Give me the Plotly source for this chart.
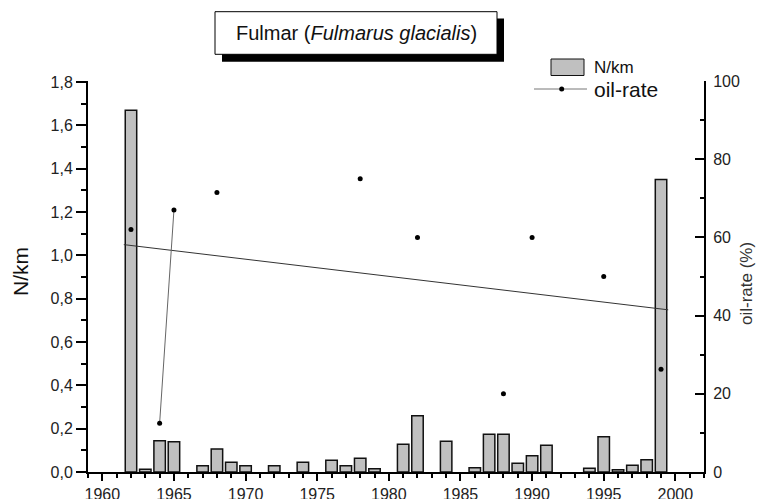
import plotly.graph_objects as go
import numpy as np

# ---- data ----
bar_years = [1962, 1963, 1964, 1965, 1967, 1968, 1969, 1970, 1972, 1974, 1976, 1977,
             1978, 1979, 1981, 1982, 1984, 1986, 1987, 1988, 1989, 1990, 1991, 1994,
             1995, 1996, 1997, 1998, 1999]
bar_values = [1.67, 0.013, 0.144, 0.14, 0.029, 0.106, 0.045, 0.029, 0.029, 0.045, 0.054, 0.029,
              0.063, 0.015, 0.128, 0.26, 0.142, 0.02, 0.174, 0.174, 0.04, 0.075, 0.123, 0.017,
              0.163, 0.01, 0.031, 0.057, 1.35]

oil_years = [1962, 1964, 1965, 1968, 1978, 1982, 1988, 1990, 1995, 1999]
oil_values = [62, 12.5, 67, 71.5, 75, 60, 20, 60, 50, 26.3]

all_years = list(range(1962, 2000))
oil_lookup = dict(zip(oil_years, oil_values))
oil_series = [oil_lookup.get(y) for y in all_years]

# linear trend of oil-rate
slope, intercept = np.polyfit(oil_years, oil_values, 1)
trend_x = [1961.5, 1999.5]
trend_y = [slope * x + intercept for x in trend_x]

FONT = "Liberation Sans, Arial, sans-serif"
WIN_W, WIN_H = 765, 499
BODY = 8                      # default page body margin
W, H = WIN_W - BODY, WIN_H - BODY
P_L, P_R, P_T, P_B = 88, 704, 81, 472   # plot area in window pixels


def px(x):
    return (x - P_L) / (P_R - P_L)


def py(y):
    return (P_B - y) / (P_B - P_T)


fig = go.Figure()
fig.add_trace(go.Bar(
    x=bar_years, y=bar_values, width=0.8, name="N/km",
    marker=dict(color="#c0c0c0", line=dict(color="#111", width=1.5)),
    yaxis="y", showlegend=False))
fig.add_trace(go.Scatter(
    x=trend_x, y=trend_y, mode="lines", yaxis="y2",
    line=dict(color="#333", width=1), showlegend=False, hoverinfo="skip"))
fig.add_trace(go.Scatter(
    x=all_years, y=oil_series, mode="lines+markers", name="oil-rate", yaxis="y2",
    connectgaps=False, line=dict(color="#666", width=1),
    marker=dict(color="black", size=5), showlegend=False))

shapes = [
    # title shadow + box
    dict(type="rect", xref="paper", yref="paper", x0=px(222), x1=px(504), y0=py(61.7), y1=py(18.5),
         fillcolor="black", line=dict(width=0), layer="above"),
    dict(type="rect", xref="paper", yref="paper", x0=px(215), x1=px(497), y0=py(54.3), y1=py(11.7),
         fillcolor="white", line=dict(color="black", width=1), layer="above"),
    # legend swatch
    dict(type="rect", xref="paper", yref="paper", x0=px(551), x1=px(584), y0=py(75.5), y1=py(59),
         fillcolor="#c0c0c0", line=dict(color="#111", width=1), layer="above"),
    dict(type="line", xref="paper", yref="paper", x0=px(534), x1=px(587), y0=py(89), y1=py(89),
         line=dict(color="#777", width=1), layer="above"),
    dict(type="circle", xref="paper", yref="paper", x0=px(559.2), x1=px(564.2), y0=py(91.5), y1=py(86.5),
         fillcolor="black", line=dict(color="black", width=0), layer="above"),
]

annotations = [
    dict(text="Fulmar (<i>Fulmarus glacialis</i>)", xref="paper", yref="paper",
         x=px(356), y=py(33), xanchor="center", yanchor="middle", showarrow=False,
         font=dict(family=FONT, size=20, color="#111")),
    dict(text="N/km", xref="paper", yref="paper", x=px(592), y=py(67),
         xanchor="left", yanchor="middle", showarrow=False,
         font=dict(family=FONT, size=17, color="#111")),
    dict(text="oil-rate", xref="paper", yref="paper", x=px(592), y=py(89),
         xanchor="left", yanchor="middle", showarrow=False,
         font=dict(family=FONT, size=21, color="#111")),
    # axis titles
    dict(text="N/km", xref="paper", yref="paper", x=px(20), y=py(272),
         xanchor="center", yanchor="middle", showarrow=False, textangle=-90,
         font=dict(family=FONT, size=21, color="#111")),
    dict(text="oil-rate (%)", xref="paper", yref="paper", x=px(746), y=py(284),
         xanchor="center", yanchor="middle", showarrow=False, textangle=-90,
         font=dict(family=FONT, size=17, color="#333")),
]

fig.update_layout(
    width=W, height=H,
    margin=dict(l=P_L - BODY, r=WIN_W - P_R, t=P_T - BODY, b=WIN_H - P_B, autoexpand=False),
    paper_bgcolor="white", plot_bgcolor="white",
    separators=",.",
    font=dict(family=FONT, size=16, color="#222"),
    bargap=0.2,
    xaxis=dict(range=[1959, 2002], tick0=1960, dtick=5, ticks="outside", ticklen=7,
               tickwidth=1.5, tickcolor="black", automargin=False,
               minor=dict(dtick=1, ticks="outside", ticklen=4, tickcolor="black", tickwidth=1.5),
               showline=True, linecolor="black", linewidth=2, showgrid=False, zeroline=False,
               tickfont=dict(size=16, color="#222"), ticklabelstandoff=0),
    yaxis=dict(range=[0, 1.805], dtick=0.2, tickformat=".1f", ticks="outside", ticklen=10,
               tickwidth=1.5, tickcolor="black", automargin=False,
               minor=dict(dtick=0.1, ticks="outside", ticklen=5, tickcolor="black", tickwidth=1.5),
               showline=True, linecolor="black", linewidth=2, showgrid=False, zeroline=False,
               tickfont=dict(size=16, color="#222")),
    yaxis2=dict(range=[0, 100], dtick=20, overlaying="y", side="right", ticks="inside", ticklen=9,
                tickwidth=1.5, tickcolor="black", automargin=False,
                minor=dict(dtick=10, ticks="inside", ticklen=4, tickcolor="black", tickwidth=1.5),
                showline=True, linecolor="black", linewidth=2, showgrid=False, zeroline=False,
                tickfont=dict(size=16, color="#222"), ticklabelstandoff=4),
    shapes=shapes,
    annotations=annotations,
)

fig.write_html("out.html")
